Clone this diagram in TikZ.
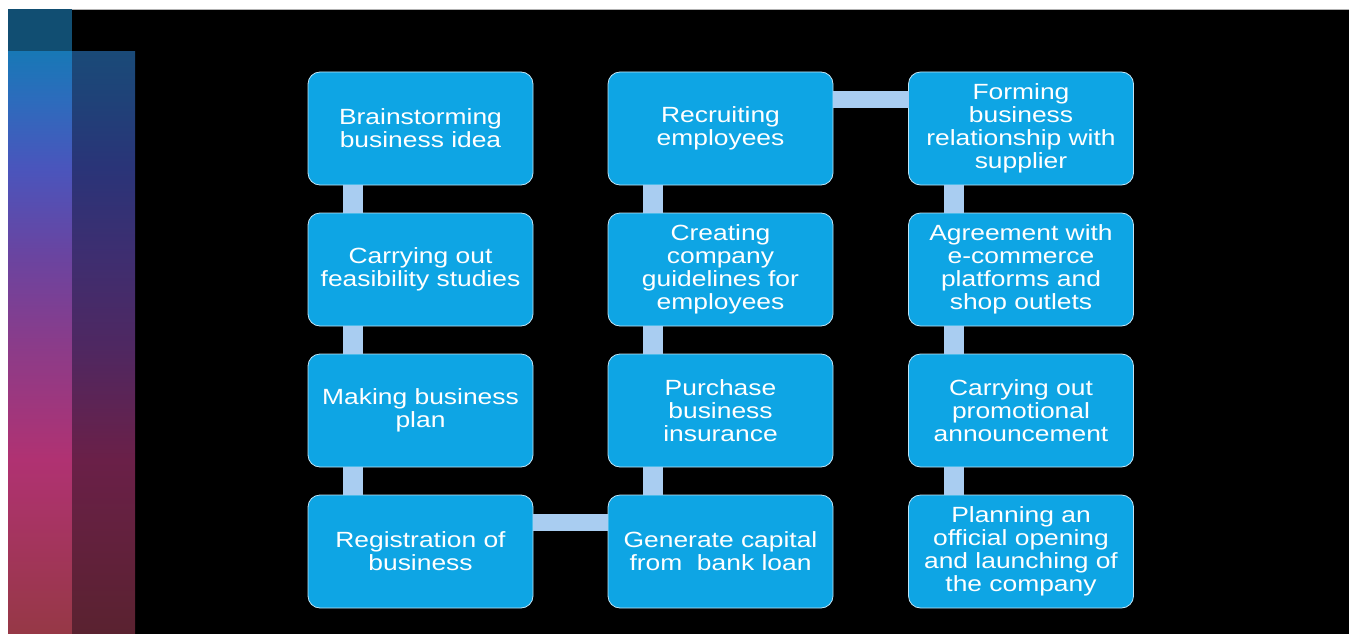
\documentclass[tikz,border=0pt]{standalone}
\usepackage{fontspec}
\setmainfont[FakeStretch=1.2]{Liberation Sans}
\definecolor{stepblue}{HTML}{0EA5E4}
\definecolor{boxedge}{HTML}{BFE4F6}
\definecolor{linkblue}{HTML}{A9CDF1}
\definecolor{tealtop}{HTML}{114E72}
\definecolor{la}{HTML}{963846}
\definecolor{lb}{HTML}{B03272}
\definecolor{lc}{HTML}{8A3C8A}
\definecolor{ld}{HTML}{6A44A0}
\definecolor{le}{HTML}{4A55BC}
\definecolor{lf}{HTML}{2C6CBC}
\definecolor{lg}{HTML}{1878B6}
\definecolor{da}{HTML}{5A2230}
\definecolor{db}{HTML}{6A2048}
\definecolor{dc}{HTML}{4E2862}
\definecolor{dd}{HTML}{3E2E70}
\definecolor{de}{HTML}{2A3478}
\definecolor{df}{HTML}{1F4278}
\definecolor{dg}{HTML}{1A4A78}
% the shaded path is fitted to the middle 50bp of the 100bp shading
\pgfdeclareverticalshading{barlight}{100bp}{color(0bp)=(la); color(25bp)=(la); color(40bp)=(lb); color(50bp)=(lc); color(57.5bp)=(ld); color(65bp)=(le); color(71bp)=(lf); color(75bp)=(lg); color(100bp)=(lg)}
\pgfdeclareverticalshading{bardark}{100bp}{color(0bp)=(da); color(25bp)=(da); color(40bp)=(db); color(50bp)=(dc); color(57.5bp)=(dd); color(65bp)=(de); color(71bp)=(df); color(75bp)=(dg); color(100bp)=(dg)}

\begin{document}
\begin{tikzpicture}[x=1pt,y=-1pt,
  stepbox/.style={draw=boxedge, line width=0.8pt, fill=stepblue, rounded corners=12pt,
    minimum width=225pt, minimum height=113pt, inner sep=0pt, outer sep=0pt,
    align=center, text=white, font=\fontsize{22}{23}\selectfont},
  vlink/.style={draw=linkblue, line width=20pt},
  hlink/.style={draw=linkblue, line width=17pt}]
\useasboundingbox (0,0) rectangle (1349,634);
\fill[white] (0,0) rectangle (1349,634);
\draw[fill=black, draw=gray!60, line width=0.6pt] (8,9) rectangle (1352,637);
\fill[tealtop] (8,9) rectangle (72,52);
\shade[shading=barlight] (8,52) rectangle (72,634);
\shade[shading=bardark] (72,52) rectangle (135,634);

\node[stepbox] (brain) at (420.5,128.5) {Brainstorming\\business idea};
\node[stepbox] (feasib) at (420.5,269.5) {Carrying out\\feasibility studies};
\node[stepbox] (plan) at (420.5,410.5) {Making business\\plan};
\node[stepbox] (regist) at (420.5,551.5) {Registration of\\business};
\node[stepbox] (recruit) at (720.5,128.5) {Recruiting\\employees};
\node[stepbox] (guide) at (720.5,269.5) {Creating\\company\\guidelines for\\employees};
\node[stepbox] (insure) at (720.5,410.5) {Purchase\\business\\insurance};
\node[stepbox] (capital) at (720.5,551.5) {Generate capital\\from\ \ bank loan};
\node[stepbox] (supplier) at (1021,128.5) {Forming\\business\\relationship with\\supplier};
\node[stepbox] (ecom) at (1021,269.5) {Agreement with\\e-commerce\\platforms and\\shop outlets};
\node[stepbox] (promo) at (1021,410.5) {Carrying out\\promotional\\announcement};
\node[stepbox] (launch) at (1021,551.5) {Planning an\\official opening\\and launching of\\the company};

\draw[vlink] ([xshift=45pt]brain.south west) -- ([xshift=45pt]feasib.north west);
\draw[vlink] ([xshift=45pt]feasib.south west) -- ([xshift=45pt]plan.north west);
\draw[vlink] ([xshift=45pt]plan.south west) -- ([xshift=45pt]regist.north west);
\draw[hlink] ([yshift=-27pt]regist.north east) -- ([yshift=-27pt]capital.north west);
\draw[vlink] ([xshift=45pt]capital.north west) -- ([xshift=45pt]insure.south west);
\draw[vlink] ([xshift=45pt]insure.north west) -- ([xshift=45pt]guide.south west);
\draw[vlink] ([xshift=45pt]guide.north west) -- ([xshift=45pt]recruit.south west);
\draw[hlink] ([yshift=-27pt]recruit.north east) -- ([yshift=-27pt]supplier.north west);
\draw[vlink] ([xshift=45pt]supplier.south west) -- ([xshift=45pt]ecom.north west);
\draw[vlink] ([xshift=45pt]ecom.south west) -- ([xshift=45pt]promo.north west);
\draw[vlink] ([xshift=45pt]promo.south west) -- ([xshift=45pt]launch.north west);
\end{tikzpicture}
\end{document}
